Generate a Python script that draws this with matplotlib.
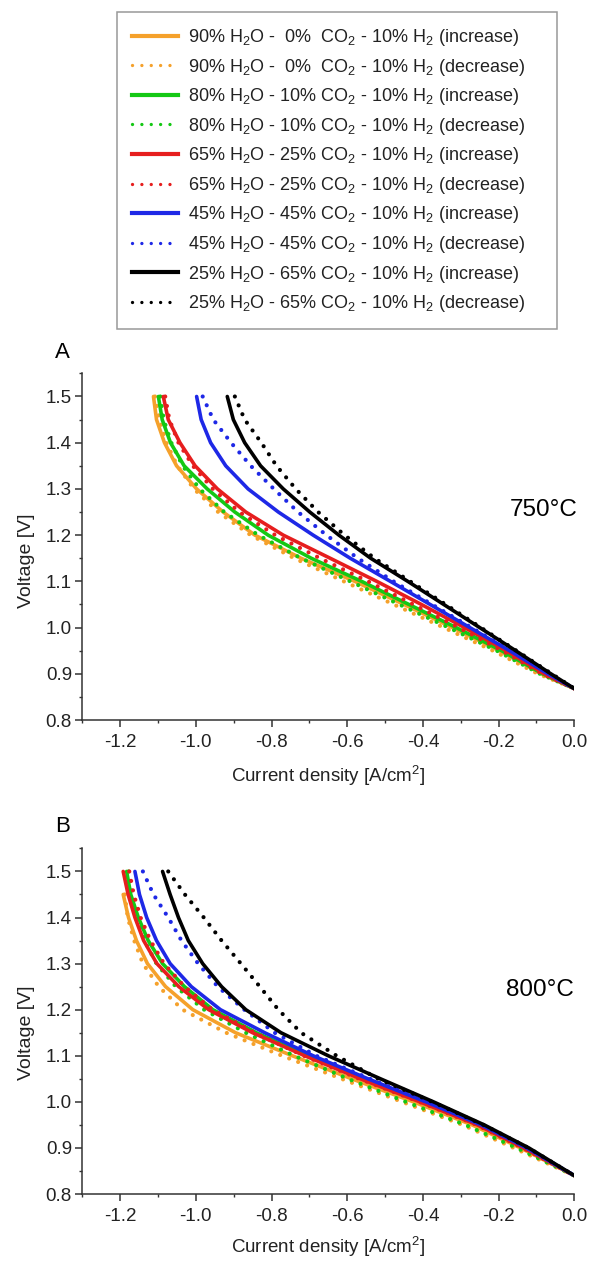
import numpy as np
import matplotlib
matplotlib.use('Agg')
import matplotlib.pyplot as plt
from matplotlib.lines import Line2D
from matplotlib.ticker import MultipleLocator, FormatStrFormatter

plt.rcParams['font.family'] = ['Liberation Sans', 'DejaVu Sans']
plt.rcParams['mathtext.fontset'] = 'custom'
plt.rcParams['mathtext.rm'] = 'Liberation Sans'
plt.rcParams['axes.unicode_minus'] = False

volt_750 = [1.50, 1.45, 1.40, 1.35, 1.30, 1.25, 1.20, 1.15, 1.10, 1.05, 1.00, 0.95, 0.90, 0.868]
volt_800 = [1.50, 1.45, 1.40, 1.35, 1.30, 1.25, 1.20, 1.15, 1.10, 1.05, 1.00, 0.95, 0.90, 0.840]

# 750 C, current density [A/cm2]
a_90_inc = [-1.112, -1.104, -1.083, -1.051, -0.998, -0.928, -0.844, -0.722, -0.580, -0.450, -0.322, -0.198, -0.086, 0.0]
a_90_dec = [-1.108, -1.096, -1.078, -1.049, -1.005, -0.941, -0.855, -0.740, -0.609, -0.477, -0.345, -0.215, -0.096, 0.0]
a_80_inc = [-1.099, -1.089, -1.067, -1.031, -0.970, -0.897, -0.809, -0.695, -0.562, -0.437, -0.312, -0.192, -0.084, 0.0]
a_80_dec = [-1.094, -1.085, -1.065, -1.035, -0.990, -0.925, -0.835, -0.722, -0.592, -0.462, -0.332, -0.205, -0.091, 0.0]
a_65_inc = [-1.086, -1.073, -1.042, -1.002, -0.943, -0.868, -0.769, -0.645, -0.522, -0.404, -0.290, -0.180, -0.080, 0.0]
a_65_dec = [-1.081, -1.070, -1.046, -1.008, -0.955, -0.885, -0.790, -0.672, -0.545, -0.425, -0.305, -0.190, -0.085, 0.0]
a_45_inc = [-0.998, -0.986, -0.961, -0.921, -0.862, -0.782, -0.690, -0.592, -0.486, -0.381, -0.276, -0.171, -0.070, 0.0]
a_45_dec = [-0.982, -0.954, -0.907, -0.855, -0.794, -0.730, -0.655, -0.572, -0.478, -0.376, -0.272, -0.168, -0.068, 0.0]
a_25_inc = [-0.917, -0.901, -0.871, -0.829, -0.769, -0.699, -0.622, -0.538, -0.440, -0.345, -0.250, -0.155, -0.062, 0.0]
a_25_dec = [-0.897, -0.871, -0.827, -0.787, -0.736, -0.677, -0.607, -0.528, -0.434, -0.340, -0.247, -0.153, -0.060, 0.0]

# 800 C
b_90_inc = [np.nan, -1.192, -1.178, -1.157, -1.128, -1.080, -1.008, -0.895, -0.745, -0.588, -0.425, -0.270, -0.142, 0.0]
b_90_dec = [np.nan, -1.188, -1.180, -1.163, -1.140, -1.098, -1.035, -0.920, -0.772, -0.615, -0.455, -0.295, -0.160, 0.0]
b_80_inc = [-1.183, -1.172, -1.152, -1.126, -1.088, -1.030, -0.955, -0.840, -0.705, -0.558, -0.402, -0.252, -0.132, 0.0]
b_80_dec = [-1.178, -1.168, -1.156, -1.136, -1.104, -1.053, -0.978, -0.868, -0.740, -0.598, -0.445, -0.288, -0.152, 0.0]
b_65_inc = [-1.192, -1.179, -1.161, -1.138, -1.103, -1.045, -0.966, -0.850, -0.712, -0.565, -0.408, -0.256, -0.134, 0.0]
b_65_dec = [-1.176, -1.164, -1.146, -1.120, -1.084, -1.030, -0.956, -0.845, -0.715, -0.568, -0.410, -0.258, -0.136, 0.0]
b_45_inc = [-1.161, -1.149, -1.130, -1.104, -1.068, -1.012, -0.935, -0.818, -0.690, -0.545, -0.392, -0.246, -0.126, 0.0]
b_45_dec = [-1.140, -1.112, -1.073, -1.038, -0.994, -0.942, -0.872, -0.792, -0.682, -0.540, -0.388, -0.244, -0.125, 0.0]
b_25_inc = [-1.088, -1.068, -1.046, -1.020, -0.982, -0.932, -0.868, -0.775, -0.650, -0.512, -0.372, -0.238, -0.120, 0.0]
b_25_dec = [-1.073, -1.029, -0.979, -0.932, -0.881, -0.831, -0.782, -0.722, -0.628, -0.518, -0.375, -0.240, -0.121, 0.0]

colors = ['#F5A12B', '#14C814', '#E61E1E', '#1E28E6', '#000000']
mixes = [('90', ' 0', ' '), ('80', '10', ''), ('65', '25', ''), ('45', '45', ''), ('25', '65', '')]

curves_750 = [(a_90_inc, a_90_dec), (a_80_inc, a_80_dec), (a_65_inc, a_65_dec),
              (a_45_inc, a_45_dec), (a_25_inc, a_25_dec)]
curves_800 = [(b_90_inc, b_90_dec), (b_80_inc, b_80_dec), (b_65_inc, b_65_dec),
              (b_45_inc, b_45_dec), (b_25_inc, b_25_dec)]

solid_kw = dict(lw=2.6, solid_capstyle='round', solid_joinstyle='round')
dot_kw = dict(lw=3.0, linestyle=(0, (0.01, 2.3)), dash_capstyle='round')

fig = plt.figure(figsize=(5.91, 12.61), dpi=100)
ax_a = fig.add_axes([0.1393, 0.4290, 0.8325, 0.2749])
ax_b = fig.add_axes([0.1393, 0.0531, 0.8325, 0.2741])


def draw_panel(ax, volts, curves):
    for (inc, dec), c in zip(curves, colors):
        ax.plot(inc, volts, color=c, **solid_kw)
        ax.plot(dec, volts, color=c, **dot_kw)
    ax.set_xlim(-1.3, 0.0)
    ax.set_ylim(0.8, 1.55)
    ax.xaxis.set_major_locator(MultipleLocator(0.2))
    ax.xaxis.set_minor_locator(MultipleLocator(0.1))
    ax.yaxis.set_major_locator(MultipleLocator(0.1))
    ax.yaxis.set_minor_locator(MultipleLocator(0.05))
    ax.xaxis.set_major_formatter(FormatStrFormatter('%.1f'))
    ax.yaxis.set_major_formatter(FormatStrFormatter('%.1f'))
    for s in ['top', 'right']:
        ax.spines[s].set_visible(False)
    for s in ['left', 'bottom']:
        ax.spines[s].set_linewidth(1.1)
        ax.spines[s].set_color('#333333')
    ax.tick_params(which='major', direction='out', length=5, width=1.1, color='#333333',
                   labelsize=13.5, labelcolor='#222222')
    ax.tick_params(which='minor', direction='out', length=2.5, width=1.0, color='#333333')
    ax.tick_params(axis='x', which='major', pad=5)
    ax.tick_params(axis='y', which='major', pad=2.5)
    ax.set_xlabel('Current density [A/cm$^\\mathregular{2}$]', fontsize=13.5, color='#222222')
    ax.set_ylabel('Voltage [V]', fontsize=14, color='#222222')


draw_panel(ax_a, volt_750, curves_750)
draw_panel(ax_b, volt_800, curves_800)

ax_a.xaxis.set_label_coords(0.5, -0.159)
ax_a.xaxis.label.set_va('center')
ax_a.yaxis.set_label_coords(-0.114, 0.46)
ax_a.yaxis.label.set_va('center')
ax_b.xaxis.set_label_coords(0.5, -0.152)
ax_b.xaxis.label.set_va('center')
ax_b.yaxis.set_label_coords(-0.114, 0.466)
ax_b.yaxis.label.set_va('center')

fig.text(62 / 591, 1 - 353 / 1261, 'A', fontsize=16, ha='center', va='center')
fig.text(63 / 591, 1 - 827 / 1261, 'B', fontsize=16, ha='center', va='center')
fig.text(578 / 591, 1 - 510 / 1261, '750°C', fontsize=17.5, ha='right', va='center')
fig.text(574 / 591, 1 - 990 / 1261, '800°C', fontsize=17.5, ha='right', va='center')

# legend
handles, labels = [], []
leg_dot = dict(lw=2.4, linestyle=(0, (0.01, 2.8)), dash_capstyle='round')
for (h2o, co2, extra), c in zip(mixes, colors):
    base = h2o + '% H$_\\mathregular{2}$O - ' + co2 + '% ' + extra + 'CO$_\\mathregular{2}$ - 10% H$_\\mathregular{2}$'
    handles.append(Line2D([], [], color=c, lw=3.0))
    labels.append(base + ' (increase)')
    handles.append(Line2D([], [], color=c, **leg_dot))
    labels.append(base + ' (decrease)')

leg = fig.legend(handles, labels, loc='upper left',
                 bbox_to_anchor=(117 / 591, 1 - 328 / 1261, 440 / 591, 316 / 1261),
                 bbox_transform=fig.transFigure, mode='expand', borderaxespad=0,
                 fancybox=False, edgecolor='#999999', framealpha=1, fontsize=13,
                 handlelength=2.55, handletextpad=0.55, labelspacing=0.475, borderpad=0.83)
leg.get_frame().set_linewidth(1.1)
for t in leg.get_texts():
    t.set_color('#222222')

fig.savefig('out.png', dpi=100)
